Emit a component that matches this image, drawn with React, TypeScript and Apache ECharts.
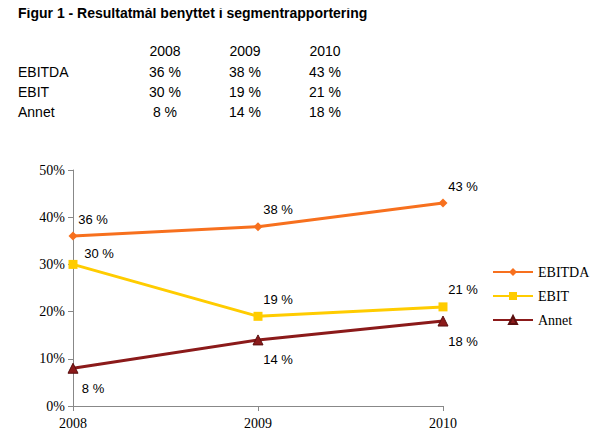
import React, { useEffect, useRef } from "react";
import * as echarts from "echarts";

const years = ["2008", "2009", "2010"];
const ebitda = [36, 38, 43];
const ebit = [30, 19, 21];
const annet = [8, 14, 18];
const seriesNames = ["EBITDA", "EBIT", "Annet"];
const title = "Figur 1 - Resultatmål benyttet i segmentrapportering";

export default function App() {
  const ref = useRef<HTMLDivElement>(null);
  useEffect(() => {
    const chart = echarts.init(ref.current!, null, { renderer: "svg" });
    const sans = "Liberation Sans, Arial, sans-serif";
    const serif = "Liberation Serif, Times New Roman, serif";
    const tableData = [ebitda, ebit, annet];
    const colX = [165, 245, 325];
    const rowY = [51, 72, 92, 112];
    const graphics: any[] = [
      { type: "text", left: 18, top: 6, style: { text: title, font: `bold 14px ${sans}`, fill: "#000" } },
    ];
    years.forEach((y, i) =>
      graphics.push({ type: "text", x: colX[i], y: rowY[0], style: { text: y, font: `14px ${sans}`, fill: "#000", align: "center", verticalAlign: "middle" } })
    );
    seriesNames.forEach((n, r) => {
      graphics.push({ type: "text", x: 18, y: rowY[r + 1], style: { text: n, font: `14px ${sans}`, fill: "#000", verticalAlign: "middle" } });
      tableData[r].forEach((v, i) =>
        graphics.push({ type: "text", x: colX[i], y: rowY[r + 1], style: { text: `${v} %`, font: `14px ${sans}`, fill: "#000", align: "center", verticalAlign: "middle" } })
      );
    });
    const lbl = (pos: any) => ({ show: true, position: pos, formatter: "{c} %", fontFamily: sans, fontSize: 13, color: "#000", distance: 6, offset: [20, 0] });
    chart.setOption({
      animation: false,
      graphic: graphics,
      grid: { left: 73, right: 157, top: 170, bottom: 35 },
      legend: {
        orient: "vertical", left: 487, top: 260, itemGap: 10, itemWidth: 40, itemHeight: 10,
        textStyle: { fontFamily: serif, fontSize: 14, color: "#000" },
        data: seriesNames,
      },
      xAxis: {
        type: "category", data: years, boundaryGap: false,
        axisLine: { lineStyle: { color: "#888" } },
        axisTick: { alignWithLabel: true, lineStyle: { color: "#888" } },
        axisLabel: { fontFamily: serif, fontSize: 14, color: "#000", margin: 10 },
      },
      yAxis: {
        type: "value", min: 0, max: 50, interval: 10,
        splitLine: { show: false },
        axisLine: { show: true, lineStyle: { color: "#888" } },
        axisTick: { show: true, lineStyle: { color: "#888" } },
        axisLabel: { formatter: "{value}%", fontFamily: serif, fontSize: 14, color: "#000" },
      },
      series: [
        { name: "EBITDA", type: "line", data: ebitda, color: "#F7701E", symbol: "diamond", symbolSize: 9, lineStyle: { width: 3 }, label: lbl("top") },
        {
          name: "EBIT", type: "line", data: ebit.map((v, i) => ({ value: v, label: i === 0 ? { offset: [26, 6] } : {} })),
          color: "#FFCC00", symbol: "rect", symbolSize: 9, lineStyle: { width: 3 }, label: lbl("top"),
        },
        {
          name: "Annet", type: "line", data: annet, color: "#8B1A1A", symbol: "triangle", symbolSize: 10,
          itemStyle: { borderColor: "#5a0f0f", borderWidth: 1 }, lineStyle: { width: 3 }, label: { ...lbl("bottom"), distance: 8 },
        },
      ],
    });
    return () => chart.dispose();
  }, []);
  return <div ref={ref} style={{ width: 600, height: 441, margin: -8 }} />;
}
